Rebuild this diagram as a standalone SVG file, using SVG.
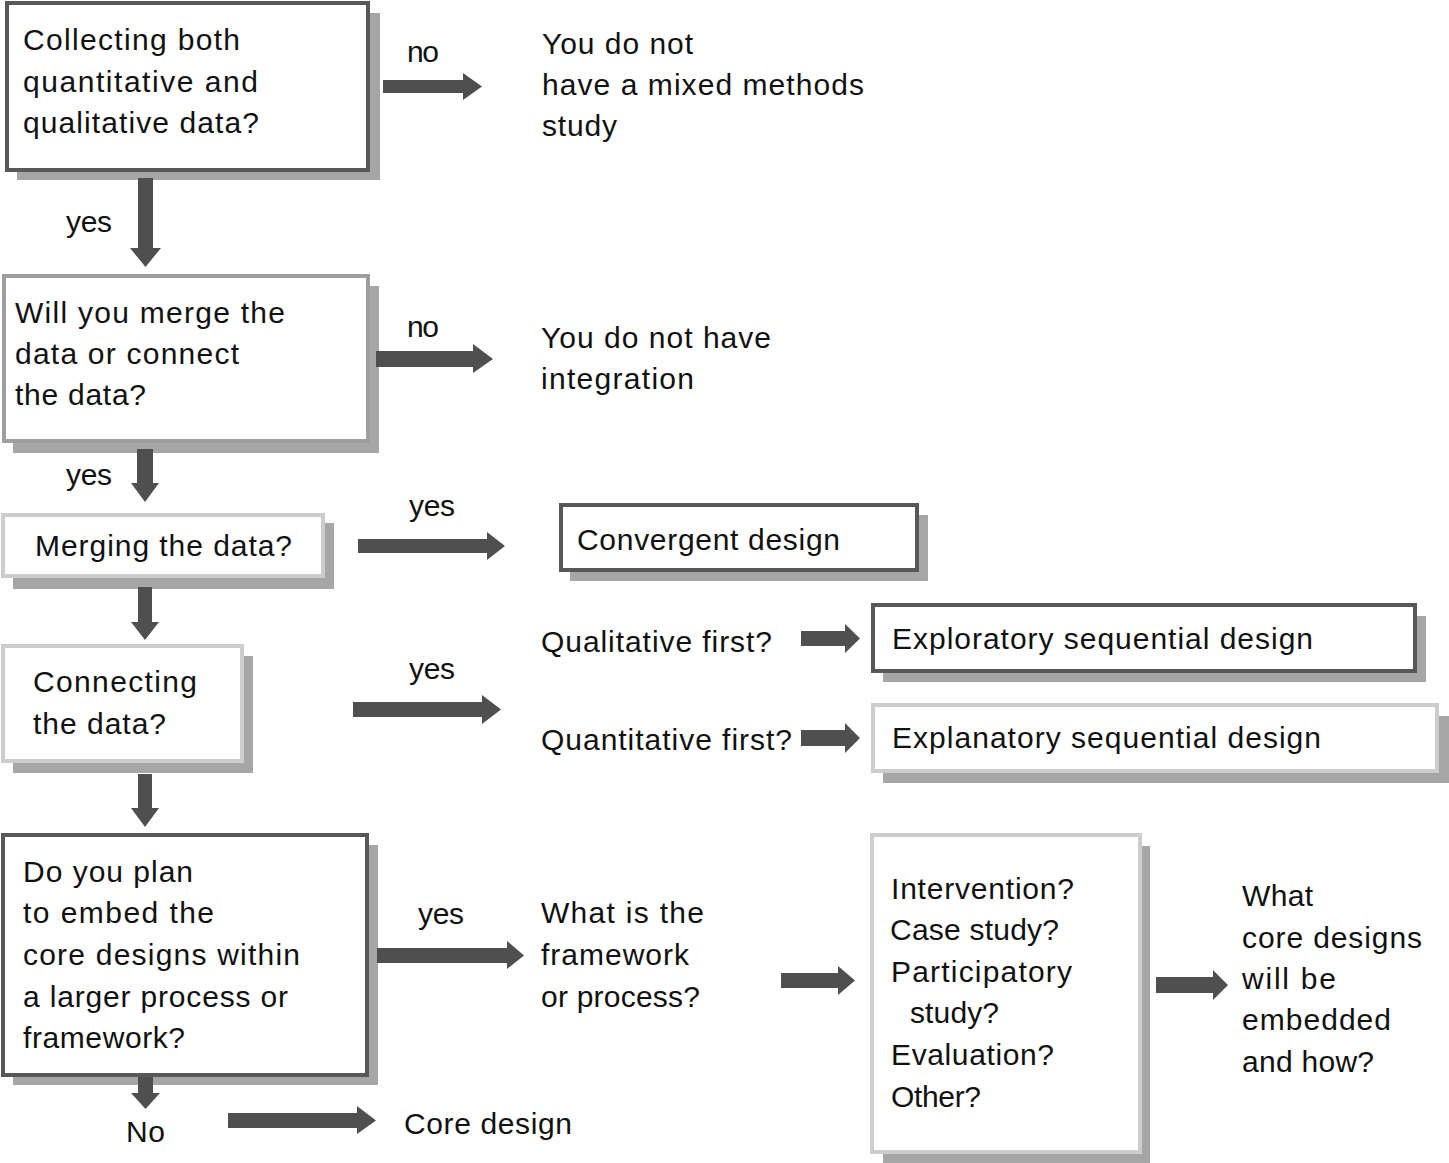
<svg xmlns="http://www.w3.org/2000/svg" width="1449" height="1163" viewBox="0 0 1449 1163">
<style>
.t{font-family:"Liberation Sans",Arial,sans-serif;font-size:30px;fill:#111;}
.sh{fill:#a6a6a6;}
.dk{fill:#fff;stroke:#585858;stroke-width:4;}
.md{fill:#fff;stroke:#9e9e9e;stroke-width:4;}
.lt{fill:#fff;stroke:#cdcdcd;stroke-width:4;}
.arr{fill:#4f4f4f;}
</style>
<rect width="1449" height="1163" fill="#fff"/>
<g id="node-collect">
<rect class="sh" x="17" y="13" width="363" height="167"/>
<rect class="dk" x="7" y="3" width="361" height="167"/>
<text class="t" x="23" y="50" textLength="217" lengthAdjust="spacing">Collecting both</text>
<text class="t" x="23" y="92" textLength="235" lengthAdjust="spacing">quantitative and</text>
<text class="t" x="23" y="133" textLength="236" lengthAdjust="spacing">qualitative data?</text>
</g>
<g id="node-nomixed">
<text class="t" x="542" y="54" textLength="151" lengthAdjust="spacing">You do not</text>
<text class="t" x="542" y="95" textLength="322" lengthAdjust="spacing">have a mixed methods</text>
<text class="t" x="542" y="136" textLength="75" lengthAdjust="spacing">study</text>
</g>
<g id="node-merge-connect">
<rect class="sh" x="13" y="286" width="366" height="167"/>
<rect class="md" x="4" y="276" width="364" height="165"/>
<text class="t" x="15" y="323" textLength="270" lengthAdjust="spacing">Will you merge the</text>
<text class="t" x="15" y="364" textLength="224" lengthAdjust="spacing">data or connect</text>
<text class="t" x="15" y="405" textLength="131" lengthAdjust="spacing">the data?</text>
</g>
<g id="node-nointegration">
<text class="t" x="541" y="348" textLength="230" lengthAdjust="spacing">You do not have</text>
<text class="t" x="541" y="389" textLength="153" lengthAdjust="spacing">integration</text>
</g>
<g id="node-merging">
<rect class="sh" x="13" y="523" width="321" height="66"/>
<rect class="lt" x="3" y="515" width="320" height="61"/>
<text class="t" x="35" y="556" textLength="257" lengthAdjust="spacing">Merging the data?</text>
</g>
<g id="node-convergent">
<rect class="sh" x="570" y="515" width="358" height="66"/>
<rect class="dk" x="561" y="505" width="356" height="65"/>
<text class="t" x="577" y="550" textLength="263" lengthAdjust="spacing">Convergent design</text>
</g>
<g id="node-connecting">
<rect class="sh" x="13" y="656" width="240" height="117"/>
<rect class="lt" x="3" y="646" width="239" height="115"/>
<text class="t" x="33" y="692" textLength="164" lengthAdjust="spacing">Connecting</text>
<text class="t" x="33" y="734" textLength="133" lengthAdjust="spacing">the data?</text>
</g>
<g id="node-qualfirst">
<text class="t" x="541" y="652" textLength="231" lengthAdjust="spacing">Qualitative first?</text>
</g>
<g id="node-quantfirst">
<text class="t" x="541" y="750" textLength="251" lengthAdjust="spacing">Quantitative first?</text>
</g>
<g id="node-exploratory">
<rect class="sh" x="883" y="616" width="543" height="66"/>
<rect class="dk" x="873" y="605" width="542" height="66"/>
<text class="t" x="892" y="649" textLength="421" lengthAdjust="spacing">Exploratory sequential design</text>
</g>
<g id="node-explanatory">
<rect class="sh" x="883" y="716" width="566" height="67"/>
<rect class="lt" x="873" y="705" width="564" height="66"/>
<text class="t" x="892" y="748" textLength="429" lengthAdjust="spacing">Explanatory sequential design</text>
</g>
<g id="node-embed">
<rect class="sh" x="13" y="845" width="365" height="240"/>
<rect class="dk" x="3" y="835" width="364" height="240"/>
<text class="t" x="23" y="882" textLength="170" lengthAdjust="spacing">Do you plan</text>
<text class="t" x="23" y="923" textLength="191" lengthAdjust="spacing">to embed the</text>
<text class="t" x="23" y="965" textLength="277" lengthAdjust="spacing">core designs within</text>
<text class="t" x="23" y="1007" textLength="265" lengthAdjust="spacing">a larger process or</text>
<text class="t" x="23" y="1048" textLength="162" lengthAdjust="spacing">framework?</text>
</g>
<g id="node-framework">
<text class="t" x="541" y="923" textLength="163" lengthAdjust="spacing">What is the</text>
<text class="t" x="541" y="965" textLength="148" lengthAdjust="spacing">framework</text>
<text class="t" x="541" y="1007" textLength="159" lengthAdjust="spacing">or process?</text>
</g>
<g id="node-types">
<rect class="sh" x="883" y="846" width="267" height="317"/>
<rect class="lt" x="872" y="835" width="268" height="317"/>
<text class="t" x="891" y="899" textLength="183" lengthAdjust="spacing">Intervention?</text>
<text class="t" x="890" y="940" textLength="169" lengthAdjust="spacing">Case study?</text>
<text class="t" x="891" y="982" textLength="181" lengthAdjust="spacing">Participatory</text>
<text class="t" x="910" y="1023" textLength="89" lengthAdjust="spacing">study?</text>
<text class="t" x="891" y="1065" textLength="163" lengthAdjust="spacing">Evaluation?</text>
<text class="t" x="891" y="1107" textLength="90" lengthAdjust="spacing">Other?</text>
</g>
<g id="node-whatcore">
<text class="t" x="1242" y="906" textLength="71" lengthAdjust="spacing">What</text>
<text class="t" x="1242" y="948" textLength="180" lengthAdjust="spacing">core designs</text>
<text class="t" x="1242" y="989" textLength="94" lengthAdjust="spacing">will be</text>
<text class="t" x="1242" y="1030" textLength="149" lengthAdjust="spacing">embedded</text>
<text class="t" x="1242" y="1072" textLength="132" lengthAdjust="spacing">and how?</text>
</g>
<g id="node-core">
<text class="t" x="404" y="1134" textLength="168" lengthAdjust="spacing">Core design</text>
</g>
<g id="connectors">
<polygon class="arr" points="383,80 463,80 463,73 482,86.5 463,100 463,93 383,93"/>
<text class="t" x="407" y="62" textLength="32" lengthAdjust="spacing">no</text>
<polygon class="arr" points="138,178 153,178 153,248 161,248 145.5,267 130,248 138,248"/>
<text class="t" x="66" y="232" textLength="46" lengthAdjust="spacing">yes</text>
<polygon class="arr" points="376,351 473,351 473,344 493,359 473,373 473,367 376,367"/>
<text class="t" x="407" y="337" textLength="32" lengthAdjust="spacing">no</text>
<polygon class="arr" points="137,449 153,449 153,483 159,483 145,502 131,483 137,483"/>
<text class="t" x="66" y="485" textLength="46" lengthAdjust="spacing">yes</text>
<polygon class="arr" points="358,539 487,539 487,532 505,546 487,560 487,553 358,553"/>
<text class="t" x="409" y="516" textLength="46" lengthAdjust="spacing">yes</text>
<polygon class="arr" points="138,587 152,587 152,622 159,622 145,640 131,622 138,622"/>
<polygon class="arr" points="353,702 482,702 482,695 501,709.5 482,724 482,717 353,717"/>
<text class="t" x="409" y="679" textLength="46" lengthAdjust="spacing">yes</text>
<polygon class="arr" points="801,631 845,631 845,624 860,638.5 845,653 845,646 801,646"/>
<polygon class="arr" points="801,730 845,730 845,723 860,738 845,753 845,746 801,746"/>
<polygon class="arr" points="138,774 152,774 152,808 159,808 145,827 131,808 138,808"/>
<polygon class="arr" points="377,948 507,948 507,941 524,955.5 507,969 507,963 377,963"/>
<text class="t" x="418" y="924" textLength="46" lengthAdjust="spacing">yes</text>
<polygon class="arr" points="138,1077 153,1077 153,1093 160,1093 145.5,1109 131,1093 138,1093"/>
<text class="t" x="126" y="1142" textLength="39" lengthAdjust="spacing">No</text>
<polygon class="arr" points="228,1113 357,1113 357,1106 376,1120.5 357,1134 357,1128 228,1128"/>
<polygon class="arr" points="781,973 838,973 838,966 855,980.5 838,995 838,988 781,988"/>
<polygon class="arr" points="1156,977 1213,977 1213,970 1228,985 1213,1000 1213,993 1156,993"/>
</g>
</svg>
